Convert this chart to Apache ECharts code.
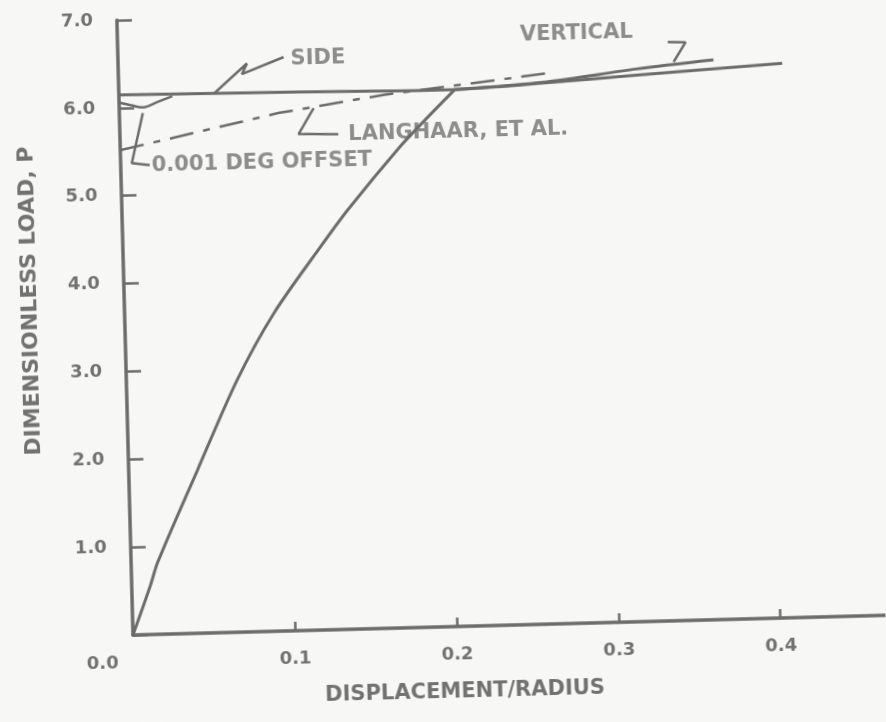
<!DOCTYPE html>
<html>
<head>
<meta charset="utf-8">
<script src="https://cdn.jsdelivr.net/npm/echarts@6/dist/echarts.min.js"></script>
<style>
html,body{margin:0;padding:0;background:#f7f7f5;overflow:hidden;}
#chart{width:886px;height:722px;transform-origin:133px 635px;transform:rotate(-1.5deg);}
</style>
</head>
<body>
<div id="chart"></div>
<script>
// ---- data ----
const xTickLabels = ['0.0', '0.1', '0.2', '0.3', '0.4'];
const yTickLabels = ['', '1.0', '2.0', '3.0', '4.0', '5.0', '6.0', '7.0'];

const loadCurve = [[0, 0], [0.0112, 0.54], [0.0165, 0.823], [0.0425, 1.858], [0.0684, 2.87], [0.0922, 3.62],
  [0.122, 4.36], [0.1398, 4.78], [0.1714, 5.45], [0.189, 5.78], [0.2072, 6.105]];
const sideCurve = [[0, 6.15], [0.111, 6.13], [0.203, 6.11], [0.264, 6.16], [0.32, 6.22], [0.41, 6.31]];
const verticalCurve = [[0.207, 6.11], [0.264, 6.17], [0.3197, 6.29], [0.3676, 6.37]];
const langhaarCurve = [[0, 5.52], [0.098, 5.895], [0.163, 6.07], [0.266, 6.27]];
const offsetCurve = [[0, 6.06], [0.007, 6.03], [0.0145, 6.0], [0.024, 6.06], [0.033, 6.12]];

const sideLeader = [[0.059, 6.14], [0.0796, 6.47], [0.0763, 6.35], [0.1023, 6.53]];
const verticalLeader = [[0.3397, 6.587], [0.3507, 6.58], [0.343, 6.36]];
const langhaarLeader = [[0.1348, 5.638], [0.1103, 5.65], [0.12, 5.94]];
const offsetLeader = [[0.0145, 5.935], [0.0069, 5.37], [0.0179, 5.34]];

const annotationTexts = ['SIDE', 'VERTICAL', 'LANGHAAR, ET AL.', '0.001 DEG OFFSET'];
const annotationPos = [[0.1066, 6.51], [0.2485, 6.71], [0.141, 5.625], [0.0191, 5.33]];

// ---- chart ----
const INK = '#6c6c6c';
const TXT = '#727272';
const FONT = '"DejaVu Sans", "Liberation Sans", sans-serif';

function curve(name, data, extra) {
  return Object.assign({
    name: name, type: 'line', data: data, showSymbol: false, symbol: 'none',
    smooth: 0.3, silent: true, animation: false,
    lineStyle: { color: INK, width: 3 }
  }, extra || {});
}
function leader(name, data) {
  return {
    name: name, type: 'line', data: data, showSymbol: false, symbol: 'none',
    silent: true, animation: false,
    lineStyle: { color: INK, width: 2.5 }
  };
}

const chart = echarts.init(document.getElementById('chart'), null, { renderer: 'canvas' });
chart.setOption({
  backgroundColor: '#f7f7f5',
  animation: false,
  grid: { left: 133, right: -6, top: 20, bottom: 87, containLabel: false },
  xAxis: {
    type: 'value', min: 0, max: 0.465, interval: 0.1,
    name: 'DISPLACEMENT/RADIUS', nameLocation: 'middle', nameGap: 55,
    nameTextStyle: { color: TXT, fontFamily: FONT, fontWeight: 'bold', fontSize: 21, padding: [0, 92, 0, 0] },
    axisLine: { show: true, onZero: false, lineStyle: { color: INK, width: 3.5 } },
    axisTick: { show: true, inside: true, length: 9, lineStyle: { color: INK, width: 2.5 } },
    splitLine: { show: false },
    axisLabel: {
      showMaxLabel: false, margin: 19, color: TXT, fontFamily: FONT, fontWeight: 'bold', fontSize: 18,
      formatter: function (v) {
        const i = Math.round(v * 10);
        if (i === 0) return '{z|' + xTickLabels[0] + '}';
        return xTickLabels[i] !== undefined ? xTickLabels[i] : '';
      },
      rich: { z: { color: TXT, fontFamily: FONT, fontWeight: 'bold', fontSize: 18, padding: [0, 62, 0, 0] } }
    }
  },
  yAxis: {
    type: 'value', min: 0, max: 7, interval: 1,
    name: 'DIMENSIONLESS LOAD, P', nameLocation: 'middle', nameGap: 83,
    nameTextStyle: { color: TXT, fontFamily: FONT, fontWeight: 'bold', fontSize: 22, padding: [0, 0, 0, 58] },
    axisLine: { show: true, onZero: false, lineStyle: { color: INK, width: 3.5 } },
    axisTick: { show: true, inside: true, length: 15, lineStyle: { color: INK, width: 2.5 } },
    splitLine: { show: false },
    axisLabel: {
      margin: 24, color: TXT, fontFamily: FONT, fontWeight: 'bold', fontSize: 18,
      formatter: function (v) { return yTickLabels[Math.round(v)] || ''; }
    }
  },
  series: [
    curve('Load curve', loadCurve),
    curve('SIDE', sideCurve),
    curve('VERTICAL', verticalCurve),
    curve('LANGHAAR, ET AL.', langhaarCurve, { smooth: false, lineStyle: { color: INK, width: 2.5, type: [24, 10, 7, 10] } }),
    curve('0.001 DEG OFFSET', offsetCurve, { lineStyle: { color: INK, width: 2.5 } }),
    leader('side leader', sideLeader),
    leader('vertical leader', verticalLeader),
    leader('langhaar leader', langhaarLeader),
    leader('offset leader', offsetLeader),
    {
      name: 'annotations', type: 'scatter', symbolSize: 0, silent: true, animation: false,
      data: annotationPos.map(function (p, i) { return { value: p, name: annotationTexts[i] }; }),
      label: {
        show: true, position: [0, 0], align: 'left', verticalAlign: 'middle',
        formatter: function (p) { return p.name; },
        color: TXT, fontFamily: FONT, fontWeight: 'bold', fontSize: 21
      }
    }
  ]
});
</script>
</body>
</html>
